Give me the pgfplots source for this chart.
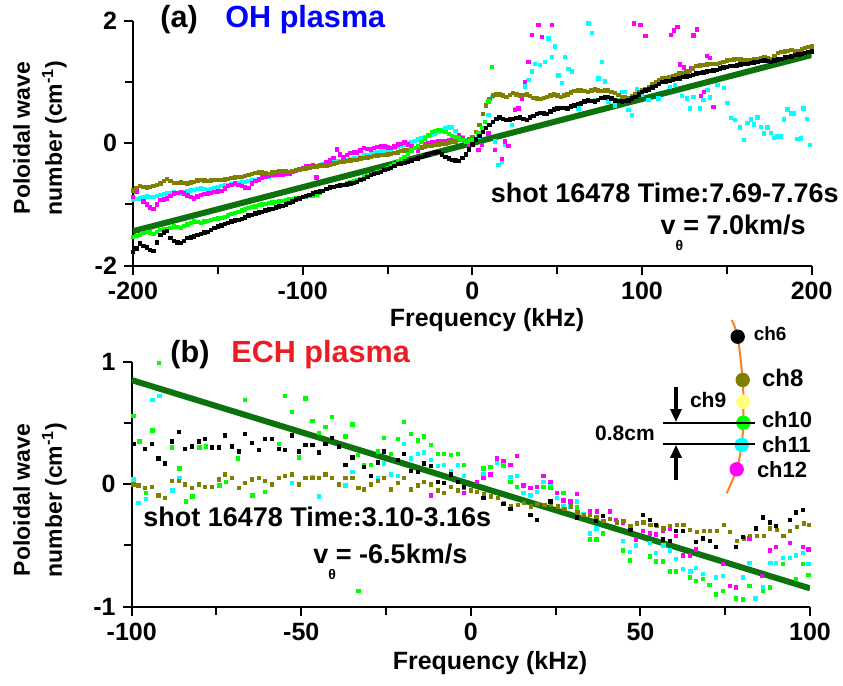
\documentclass[border=0pt]{standalone}
\usepackage{fontspec}
\setmainfont{Liberation Sans}
\usepackage{pgfplots}
\pgfplotsset{compat=1.18}
\usetikzlibrary{arrows.meta}
\definecolor{olivec}{RGB}{128,128,0}
\definecolor{fitgreen}{RGB}{12,115,12}
\definecolor{ohblue}{RGB}{0,0,255}
\definecolor{echred}{RGB}{237,28,36}
\definecolor{curveor}{RGB}{255,127,39}
\definecolor{ch9y}{RGB}{255,255,128}
\definecolor{cy}{RGB}{0,255,255}
\definecolor{mg}{RGB}{255,0,255}
\definecolor{gr}{RGB}{0,255,0}
\pgfplotsset{
  panel/.style={
    scale only axis,
    axis lines=left,
    axis line style={line width=1pt,-},
    tick align=outside,
    major tick length=4.5pt, minor tick length=4pt,
    tick style={line width=1pt,black},
    minor tick style={line width=1pt,black},
    tick label style={font=\fontsize{12.5}{15}\selectfont\bfseries},
    /pgf/number format/assume math mode=true,
    enlargelimits=false,
  },
  dots/.style={only marks, mark=square*, mark size=0.85pt, mark options={line width=0.3pt}},
  fit/.style={no marks, line width=3pt, fitgreen},
}
\begin{document}
\begin{tikzpicture}
\useasboundingbox (0,0) rectangle (421.5pt,-343pt);
% ---------------- panel (a)
\begin{axis}[panel, at={(66.5pt,-132.75pt)}, anchor=south west, width=339.35pt, height=122.4pt,
  xmin=-200,xmax=200,ymin=-2,ymax=2,
  xtick={-200,-100,0,100,200}, minor xtick={-150,-50,50,150},
  ytick={-2,0,2}, minor ytick={-1,1}]
% cyan
\addplot[dots, cy] coordinates {
(-200,-0.93)(-196,-0.90)(-192,-0.87)(-188,-0.88)(-184,-0.84)(-180,-0.82)(-176,-0.80)(-172,-0.82)(-168,-0.78)(-164,-0.76)(-160,-0.74)(-156,-0.76)(-152,-0.74)(-148,-0.70)(-144,-0.68)(-140,-0.66)(-136,-0.64)(-132,-0.62)(-128,-0.60)(-124,-0.56)(-120,-0.54)(-116,-0.52)(-112,-0.50)(-108,-0.47)(-104,-0.45)(-100,-0.42)(-96,-0.40)(-92,-0.37)(-88,-0.34)(-84,-0.32)(-80,-0.30)(-76,-0.28)(-72,-0.26)(-68,-0.24)(-64,-0.20)(-60,-0.18)(-56,-0.15)(-52,-0.12)(-48,-0.10)(-44,-0.06)(-40,-0.02)(-36,0.02)(-32,0.06)(-28,0.10)(-24,0.14)(-20,0.18)(-16,0.24)(-12,0.27)(-8,0.14)(-4,0.05)
(-198,-0.91)(-194,-0.88)(-190,-0.88)(-186,-0.86)(-182,-0.83)(-178,-0.81)(-174,-0.81)(-170,-0.80)(-166,-0.77)(-162,-0.75)(-158,-0.75)(-154,-0.75)(-150,-0.72)(-146,-0.69)(-142,-0.67)(-138,-0.65)(-134,-0.63)(-130,-0.61)(-126,-0.58)(-122,-0.55)(-118,-0.53)(-114,-0.51)(-110,-0.48)(-106,-0.46)(-102,-0.43)(-98,-0.41)(-94,-0.38)(-90,-0.35)(-86,-0.33)(-82,-0.31)(-78,-0.29)(-74,-0.27)(-70,-0.25)(-66,-0.22)(-62,-0.19)(-58,-0.16)(-54,-0.13)(-50,-0.11)(-46,-0.08)(-42,-0.04)(-38,0.00)(-34,0.04)(-30,0.08)(-26,0.12)(-22,0.16)(-18,0.21)(-14,0.26)(-10,0.20)(-6,0.10)
(3.5,0.11)(9.4,0.46)(11.4,0.76)(13.3,0.03)(15.3,-0.35)(17.2,-0.30)(19.2,-0.03)(23.1,0.30)(25.1,0.55)(31,0.93)(33,1.03)(34.9,1.17)(36.9,1.30)(39.8,1.28)(42.8,1.33)(44.8,1.71)(46.7,1.41)(48.7,1.58)(50.6,1.11)(52.6,0.99)(54.6,1.41)(56.5,1.21)(58.5,1.17)(62.4,0.57)(68.3,1.96)(70.3,1.80)(72.3,0.71)(74.2,1.06)(76.2,1.33)(78.1,1.01)(80.1,0.68)(84,0.62)(86,0.70)(88,0.84)(90,0.84)(91.9,0.54)(93.9,0.46)(96.8,0.88)(99.8,0.79)(103.7,0.71)(109.6,0.73)(116.5,0.92)(119.4,0.95)(123.4,0.77)(126.3,0.73)(128.3,0.57)(130.2,0.76)(134.2,0.57)(136.1,0.71)(138.5,0.87)(140,0.75)(144.4,0.95)(148.3,0.90)(150.3,0.66)(152.2,0.41)(154.8,0.38)(157.7,0.26)(160.1,0.05)(162.1,0.33)(164,0.39)(166,0.31)(168,0.42)(169.9,0.27)(171.9,0.16)(173.8,0.26)(175.8,0.17)(177.8,0.09)(179.7,0.11)(181.7,0.11)(183.7,0.39)(185.6,0.55)(187.6,0.49)(189.6,0.49)(191.1,0.07)(193.5,0.08)(195.1,0.57)(197,0.40)(199,-0.03)
};
% magenta
\addplot[dots, mg] coordinates {
(-200,-0.88)(-196,-0.70)(-192,-1.00)(-188,-1.07)(-184,-0.93)(-180,-0.90)(-176,-0.82)(-172,-0.80)(-168,-0.85)(-164,-0.90)(-160,-0.84)(-156,-0.82)(-152,-0.80)(-148,-0.78)(-144,-0.70)(-140,-0.66)(-136,-0.70)(-132,-0.73)(-128,-0.62)(-124,-0.56)(-120,-0.53)(-116,-0.52)(-112,-0.51)(-108,-0.50)(-104,-0.45)(-100,-0.40)(-96,-0.37)(-92,-0.56)(-88,-0.35)(-84,-0.28)(-80,-0.10)(-76,-0.22)(-72,-0.16)(-68,-0.15)(-64,-0.08)(-60,-0.10)(-56,-0.06)(-52,-0.05)(-48,-0.08)(-44,-0.02)(-40,0.01)(-36,-0.05)(-32,-0.12)(-28,-0.02)(-24,0.01)(-20,0.03)(-16,0.03)(-12,0.06)(-8,0.13)(-4,0.02)
(-198,-0.80)(-194,-0.95)(-190,-1.05)(-186,-1.00)(-182,-0.92)(-178,-0.86)(-174,-0.81)(-170,-0.82)(-166,-0.88)(-162,-0.87)(-158,-0.83)(-154,-0.81)(-150,-0.79)(-146,-0.74)(-142,-0.68)(-138,-0.68)(-134,-0.72)(-130,-0.66)(-126,-0.59)(-122,-0.54)(-118,-0.52)(-114,-0.51)(-110,-0.50)(-106,-0.47)(-102,-0.42)(-98,-0.38)(-94,-0.36)(-90,-0.36)(-86,-0.31)(-82,-0.24)(-78,-0.18)(-74,-0.19)(-70,-0.15)(-66,-0.12)(-62,-0.09)(-58,-0.08)(-54,-0.05)(-50,-0.07)(-46,-0.05)(-42,-0.01)(-38,-0.02)(-34,-0.08)(-30,-0.07)(-26,0.00)(-22,0.02)(-18,0.03)(-14,0.05)(-10,0.10)(-6,0.08)(-2,-0.04)
(3.5,-0.11)(5.5,-0.03)(9.4,0.16)(13.3,-0.11)(17.2,-0.26)(19.2,0.03)(21.2,-0.04)(25.1,0.54)(27.1,0.57)(29,0.73)(31,1.0)(33,1.33)(34.9,1.77)(38.9,1.93)(40.8,1.74)(46.7,1.93)(95,1.96)(99,1.93)(102,1.75)(116.9,1.77)(118.8,1.84)(120.8,1.90)(122.4,1.29)(124.7,1.24)(126.7,1.17)(128.7,1.22)(130.2,1.76)(132.2,1.86)(134.5,0.77)(136.5,0.84)(138.1,1.43)(140.1,1.39)(142,0.59)
};
% olive
\addplot[dots, olivec] coordinates {
(-200,-0.77)(-196,-0.70)(-192,-0.72)(-188,-0.70)(-184,-0.66)(-180,-0.58)(-176,-0.65)(-172,-0.64)(-168,-0.66)(-164,-0.63)(-160,-0.60)(-156,-0.62)(-152,-0.60)(-148,-0.60)(-144,-0.58)(-140,-0.56)(-136,-0.55)(-132,-0.52)(-128,-0.49)(-124,-0.48)(-120,-0.50)(-116,-0.47)(-112,-0.46)(-108,-0.47)(-104,-0.44)(-100,-0.42)(-96,-0.40)(-92,-0.38)(-88,-0.37)(-84,-0.35)(-80,-0.32)(-76,-0.30)(-72,-0.28)(-68,-0.27)(-64,-0.24)(-60,-0.22)(-56,-0.20)(-52,-0.19)(-48,-0.17)(-44,-0.15)(-40,-0.12)(-36,-0.10)(-32,-0.07)(-28,-0.05)(-24,-0.04)(-20,-0.02)(-16,0.00)(-12,0.02)(-8,0.05)(-4,0.04)(0,0.10)(4,0.30)(8,0.62)(12,0.78)(16,0.80)(20,0.76)(24,0.82)(28,0.78)(32,0.80)(36,0.74)(40,0.72)(44,0.76)(48,0.80)(52,0.76)(56,0.80)(60,0.85)(64,0.86)(68,0.84)(72,0.88)(76,0.85)(80,0.86)(84,0.82)(88,0.76)(92,0.74)(96,0.80)(100,0.86)(104,0.92)(108,1.00)(112,1.06)(116,1.08)(120,1.12)(124,1.15)(128,1.18)(132,1.26)(136,1.28)(140,1.30)(144,1.30)(148,1.33)(152,1.36)(156,1.38)(160,1.36)(164,1.35)(168,1.38)(172,1.40)(176,1.38)(180,1.48)(184,1.50)(188,1.52)(192,1.50)(196,1.56)(200,1.58)
(-198,-0.73)(-194,-0.71)(-190,-0.71)(-186,-0.68)(-182,-0.62)(-178,-0.62)(-174,-0.65)(-170,-0.65)(-166,-0.64)(-162,-0.61)(-158,-0.61)(-154,-0.61)(-150,-0.60)(-146,-0.59)(-142,-0.57)(-138,-0.55)(-134,-0.53)(-130,-0.50)(-126,-0.48)(-122,-0.49)(-118,-0.48)(-114,-0.46)(-110,-0.46)(-106,-0.45)(-102,-0.43)(-98,-0.41)(-94,-0.39)(-90,-0.37)(-86,-0.36)(-82,-0.33)(-78,-0.31)(-74,-0.29)(-70,-0.27)(-66,-0.25)(-62,-0.23)(-58,-0.21)(-54,-0.19)(-50,-0.18)(-46,-0.16)(-42,-0.13)(-38,-0.11)(-34,-0.08)(-30,-0.06)(-26,-0.04)(-22,-0.03)(-18,-0.01)(-14,0.01)(-10,0.03)(-6,0.05)(-2,0.06)(2,0.18)(6,0.48)(10,0.72)(14,0.80)(18,0.78)(22,0.79)(26,0.80)(30,0.79)(34,0.77)(38,0.73)(42,0.74)(46,0.78)(50,0.78)(54,0.78)(58,0.83)(62,0.86)(66,0.85)(70,0.86)(74,0.86)(78,0.86)(82,0.84)(86,0.79)(90,0.75)(94,0.77)(98,0.83)(102,0.89)(106,0.96)(110,1.03)(114,1.07)(118,1.10)(122,1.14)(126,1.16)(130,1.22)(134,1.27)(138,1.29)(142,1.30)(146,1.31)(150,1.35)(154,1.37)(158,1.37)(162,1.35)(166,1.37)(170,1.39)(174,1.39)(178,1.43)(182,1.49)(186,1.51)(190,1.51)(194,1.53)(198,1.57)
};
% green
\addplot[dots, gr] coordinates {
(-200,-1.53)(-196,-1.50)(-192,-1.45)(-188,-1.48)(-184,-1.42)(-180,-1.40)(-176,-1.36)(-172,-1.38)(-168,-1.33)(-164,-1.28)(-160,-1.30)(-156,-1.27)(-152,-1.24)(-148,-1.22)(-144,-1.18)(-140,-1.14)(-136,-1.10)(-132,-1.06)(-128,-1.03)(-124,-1.00)(-120,-0.98)(-116,-0.96)(-112,-0.94)(-108,-0.92)(-104,-0.90)(-100,-0.88)(-96,-0.86)(-92,-0.84)(-88,-0.78)(-84,-0.72)(-80,-0.70)(-76,-0.68)(-72,-0.64)(-68,-0.60)(-64,-0.56)(-60,-0.52)(-56,-0.48)(-52,-0.44)(-48,-0.38)(-44,-0.30)(-40,-0.22)(-36,-0.12)(-32,-0.04)(-28,0.08)(-24,0.18)(-20,0.22)(-16,0.18)(-12,0.12)(-8,0.08)(-4,0.02)(0,0.05)(3.5,0.16)(5.5,0.25)(7.4,0.35)(9.4,0.68)(11.4,1.25)
(-198,-1.51)(-194,-1.47)(-190,-1.46)(-186,-1.45)(-182,-1.41)(-178,-1.38)(-174,-1.37)(-170,-1.35)(-166,-1.30)(-162,-1.29)(-158,-1.28)(-154,-1.25)(-150,-1.23)(-146,-1.20)(-142,-1.16)(-138,-1.12)(-134,-1.08)(-130,-1.04)(-126,-1.01)(-122,-0.99)(-118,-0.97)(-114,-0.95)(-110,-0.93)(-106,-0.91)(-102,-0.89)(-98,-0.87)(-94,-0.85)(-90,-0.81)(-86,-0.75)(-82,-0.71)(-78,-0.69)(-74,-0.66)(-70,-0.62)(-66,-0.58)(-62,-0.54)(-58,-0.50)(-54,-0.46)(-50,-0.41)(-46,-0.34)(-42,-0.26)(-38,-0.17)(-34,-0.08)(-30,0.02)(-26,0.13)(-22,0.20)(-18,0.20)(-14,0.15)(-10,0.10)(-6,0.05)(-2,0.03)
};
% black
\addplot[dots, black] coordinates {
(-200,-1.78)(-196,-1.64)(-192,-1.70)(-188,-1.76)(-184,-1.50)(-180,-1.43)(-176,-1.60)(-172,-1.63)(-168,-1.55)(-164,-1.52)(-160,-1.48)(-156,-1.45)(-152,-1.38)(-148,-1.34)(-144,-1.30)(-140,-1.26)(-136,-1.24)(-132,-1.18)(-128,-1.15)(-124,-1.12)(-120,-1.08)(-116,-1.05)(-112,-1.02)(-108,-0.98)(-104,-0.92)(-100,-0.88)(-96,-0.84)(-92,-0.80)(-88,-0.78)(-84,-0.72)(-80,-0.70)(-76,-0.68)(-72,-0.66)(-68,-0.63)(-64,-0.58)(-60,-0.52)(-56,-0.49)(-52,-0.44)(-48,-0.40)(-44,-0.34)(-40,-0.32)(-36,-0.28)(-32,-0.25)(-28,-0.20)(-24,-0.16)(-20,-0.14)(-16,-0.22)(-12,-0.27)(-8,-0.29)(-4,-0.18)(0,-0.02)(4,0.12)(8,0.25)(12,0.35)(16,0.42)(20,0.38)(24,0.40)(28,0.42)(32,0.38)(36,0.45)(40,0.50)(44,0.48)(48,0.55)(52,0.58)(56,0.57)(60,0.62)(64,0.65)(68,0.70)(72,0.68)(76,0.74)(80,0.76)(84,0.70)(88,0.68)(92,0.70)(96,0.76)(100,0.84)(104,0.88)(108,0.94)(112,1.00)(116,1.02)(120,1.05)(124,1.08)(128,1.10)(132,1.14)(136,1.16)(140,1.18)(144,1.20)(148,1.24)(152,1.26)(156,1.27)(160,1.30)(164,1.31)(168,1.33)(172,1.35)(176,1.33)(180,1.37)(184,1.40)(188,1.42)(192,1.45)(196,1.48)(200,1.50)
(-198,-1.72)(-194,-1.68)(-190,-1.74)(-186,-1.62)(-182,-1.46)(-178,-1.55)(-174,-1.62)(-170,-1.60)(-166,-1.54)(-162,-1.50)(-158,-1.46)(-154,-1.42)(-150,-1.36)(-146,-1.32)(-142,-1.28)(-138,-1.25)(-134,-1.21)(-130,-1.17)(-126,-1.13)(-122,-1.10)(-118,-1.07)(-114,-1.03)(-110,-1.00)(-106,-0.95)(-102,-0.90)(-98,-0.86)(-94,-0.82)(-90,-0.79)(-86,-0.75)(-82,-0.71)(-78,-0.69)(-74,-0.67)(-70,-0.65)(-66,-0.60)(-62,-0.55)(-58,-0.50)(-54,-0.47)(-50,-0.42)(-46,-0.37)(-42,-0.33)(-38,-0.30)(-34,-0.26)(-30,-0.22)(-26,-0.18)(-22,-0.15)(-18,-0.18)(-14,-0.25)(-10,-0.28)(-6,-0.24)(-2,-0.10)(2,0.06)(6,0.18)(10,0.30)(14,0.40)(18,0.40)(22,0.39)(26,0.41)(30,0.40)(34,0.42)(38,0.48)(42,0.49)(46,0.52)(50,0.57)(54,0.58)(58,0.60)(62,0.64)(66,0.68)(70,0.69)(74,0.71)(78,0.75)(82,0.73)(86,0.69)(90,0.69)(94,0.73)(98,0.80)(102,0.86)(106,0.91)(110,0.97)(114,1.01)(118,1.04)(122,1.06)(126,1.09)(130,1.12)(134,1.15)(138,1.17)(142,1.19)(146,1.22)(150,1.25)(154,1.26)(158,1.29)(162,1.30)(166,1.32)(170,1.34)(174,1.34)(178,1.35)(182,1.38)(186,1.41)(190,1.44)(194,1.46)(198,1.49)
};
\addplot[fit] coordinates {(-200,-1.44)(200,1.44)};
\end{axis}
% ---------------- panel (b)
\begin{axis}[panel, at={(65.85pt,-303.35pt)}, anchor=south west, width=339.15pt, height=122.5pt,
  xmin=-100,xmax=100,ymin=-1,ymax=1,
  xtick={-100,-50,0,50,100}, minor xtick={-75,-25,25,75},
  ytick={-1,0,1}, minor ytick={-0.5,0.5}]
% cyan
\addplot[dots, cy] coordinates {
(-99.5,0.04)(-98,-0.15)(-95.8,-0.12)(-93.9,0.69)(-91.9,0.72)(-88,-0.05)(-86,0.05)(-52.8,0.01)(-46.8,0.06)(-44.9,-0.10)(-37,-0.01)(-35,0.10)(-33.4,-0.03)(-27.5,0.05)(-25.6,0.17)(-23.6,0.08)(-21.6,0.07)(-19.7,0.33)(-17.7,0.21)(-15.7,0.25)(-13.8,0.26)(-11.8,0.20)(-9.8,0.15)(-7.9,0.16)(-5.9,0.11)(-3.9,0.16)(-2,0.07)(3.7,0.08)(7.7,0.18)(9.6,0.16)(11.6,0.06)(13.6,0.07)(15.5,-0.07)(17.5,-0.09)(19.5,-0.06)(21.4,0.02)(23.4,-0.01)(25.4,-0.11)(27.3,-0.18)(29.3,-0.18)(31.3,-0.14)(33.2,-0.24)(35,-0.40)(37,-0.36)(44.8,-0.46)(46.8,-0.55)(48.7,-0.50)(52.7,-0.48)(54.6,-0.56)(56.8,-0.50)(58.6,-0.54)(60.5,-0.61)(62.5,-0.69)(64.7,-0.71)(66.4,-0.68)(68.4,-0.73)(72.3,-0.76)(74.3,-0.75)(80.2,-0.76)(82.1,-0.64)(83.9,-0.93)(86.1,-0.84)(88.3,-0.64)(90,-0.64)(92,-0.60)(94,-0.60)(95.9,-0.58)(97.9,-0.56)(99.5,-0.65)
};
% magenta
\addplot[dots, mg] coordinates {
(-11.8,-0.09)(-2,-0.07)(1.8,0.02)(3.7,0.05)(5.7,0.08)(7.7,0.21)(9.6,0.19)(11.6,0.16)(13.6,0.23)(15.5,-0.01)(17.5,-0.03)(19.5,-0.02)(21.4,0.07)(23.4,0.02)(25.4,-0.07)(27.3,-0.13)(29.3,-0.14)(31.3,-0.08)(35,-0.22)(37.2,-0.22)(38.9,-0.30)(40.9,-0.22)(42.8,-0.29)(44.8,-0.31)(48.7,-0.45)(50.7,-0.38)(52.7,-0.40)(54.6,-0.41)(56.6,-0.38)(58.6,-0.36)(60.5,-0.42)(62.5,-0.58)(64.5,-0.58)(66.4,-0.53)(74.3,-0.65)(76.3,-0.83)(78.2,-0.84)(82.1,-0.44)(85.8,-0.75)(88.1,-0.54)(90,-0.51)(92,-0.42)(94,-0.48)(97.9,-0.51)(99.5,-0.53)
};
% green
\addplot[dots, gr] coordinates {
(-99.5,0.56)(-97.8,0.35)(-95.8,-0.07)(-93.9,0.44)(-92,0.99)(-88.2,0.30)(-86,0.13)(-84.1,-0.14)(-82.1,-0.10)(-80.1,0.30)(-78.2,0.31)(-74.2,-0.01)(-72.2,0.02)(-68.7,0.21)(-66.7,0.69)(-64.4,-0.09)(-60.7,-0.06)(-56.7,0.33)(-54.8,0.72)(-52.8,0.59)(-50.8,0.22)(-48.8,0.70)(-46.8,0.52)(-44.9,0.42)(-42.9,0.47)(-41,0.55)(-37,0.39)(-35,0.49)(-33.4,0.24)(-33.2,-0.87)(-31.5,0.16)(-29.5,0.16)(-27.5,0.27)(-25.6,0.38)(-23.6,0.25)(-21.6,0.37)(-19.7,0.51)(-17.7,0.41)(-15.7,0.36)(-13.8,0.39)(-11.8,0.32)(-9.8,0.25)(-7.9,0.25)(-5.9,0.24)(-3.9,0.25)(-2,0.16)(3.7,0.13)(5.7,0.14)(9.6,0.15)(11.6,0.02)(13.6,-0.02)(21.4,-0.02)(23.4,-0.03)(27.3,-0.07)(31.3,-0.19)(35,-0.45)(37,-0.45)(38.9,-0.40)(44.8,-0.54)(46.8,-0.62)(52.7,-0.59)(54.6,-0.63)(56.6,-0.63)(58.6,-0.71)(60.5,-0.71)(64.5,-0.76)(66.4,-0.79)(68.4,-0.77)(70.3,-0.82)(72.3,-0.90)(74.3,-0.87)(78.2,-0.93)(80.2,-0.94)(82.1,-0.83)(86.1,-0.87)(88.1,-0.84)(92,-0.65)(95.9,-0.77)(97.9,-0.65)(99.5,-0.74)
};
% olive
\addplot[dots, olivec] coordinates {
(-99.5,0.00)(-98,-0.01)(-96.1,-0.03)(-94.1,-0.02)(-92.1,-0.09)(-90.2,-0.11)(-88.2,0.03)(-86.2,0.03)(-84.3,0.00)(-82.3,-0.03)(-80.3,0.00)(-78.4,-0.02)(-76.4,-0.02)(-74.4,0.04)(-72.5,0.08)(-70.5,0.05)(-68.5,-0.03)(-66.6,0.01)(-64.6,0.04)(-62.6,0.05)(-60.7,0.03)(-58.7,0.00)(-56.7,0.05)(-54.8,0.07)(-52.8,0.08)(-50.8,0.00)(-48.8,0.05)(-46.8,0.05)(-44.9,0.05)(-42.9,0.08)(-41,0.05)(-39,0.00)(-37,0.05)(-35,0.05)(-33.2,-0.03)(-31.5,-0.04)(-29.5,0.00)(-27.5,0.03)(-25.6,0.05)(-23.6,-0.04)(-21.6,0.01)(-19.7,0.05)(-17.7,-0.04)(-15.7,-0.01)(-13.8,0.02)(-11.8,0.00)(-9.8,-0.05)(-7.9,-0.07)(-5.9,-0.02)(-3.9,-0.05)(-2,-0.03)(0,-0.05)(1.8,-0.06)(3.9,-0.08)(5.9,-0.10)(7.9,-0.11)(9.8,-0.15)(11.8,-0.18)(13.8,-0.17)(15.7,-0.15)(17.7,-0.18)(19.6,-0.16)(21.6,-0.17)(23.6,-0.17)(25.6,-0.18)(27.5,-0.20)(29.5,-0.18)(31.4,-0.23)(33.3,-0.25)(35.1,-0.25)(37,-0.27)(39,-0.30)(41,-0.28)(43,-0.31)(45,-0.30)(47,-0.34)(48.9,-0.32)(50.9,-0.31)(52.9,-0.33)(54.8,-0.34)(56.8,-0.36)(58.7,-0.34)(60.7,-0.33)(62.7,-0.33)(64.6,-0.37)(66.6,-0.39)(68.6,-0.38)(70.5,-0.38)(72.5,-0.38)(74.5,-0.33)(76.4,-0.39)(78.4,-0.46)(80.4,-0.44)(82.3,-0.42)(84.3,-0.42)(86.3,-0.42)(88.2,-0.36)(90.2,-0.37)(92.2,-0.42)(94.1,-0.38)(96.1,-0.35)(98.1,-0.32)(99.6,-0.33)
};
% black
\addplot[dots, black] coordinates {
(-99.5,0.33)(-96.1,0.29)(-94.1,0.33)(-92.1,0.21)(-90.2,0.17)(-88.2,0.35)(-86.2,0.43)(-84.3,0.29)(-82.3,0.31)(-80.3,0.35)(-78.4,0.37)(-76.4,0.30)(-74.4,0.30)(-72.5,0.40)(-70.5,0.31)(-68.5,0.27)(-66.6,0.41)(-64.6,0.34)(-62.6,0.28)(-60.7,0.37)(-58.7,0.37)(-56.7,0.29)(-54.8,0.28)(-52.8,0.40)(-50.8,0.27)(-48.8,0.32)(-46.8,0.32)(-44.9,0.26)(-42.9,0.33)(-41,0.38)(-39,0.31)(-37,0.16)(-35,0.22)(-31.5,0.14)(-29.5,0.07)(-27.5,0.18)(-25.6,0.27)(-21.6,0.20)(-19.7,0.25)(-17.7,0.11)(-15.7,0.10)(-13.8,0.17)(-11.8,0.15)(-9.8,0.02)(-7.9,0.01)(-5.9,0.08)(-3.9,0.02)(-2,-0.02)(3.7,-0.11)(9.6,-0.16)(11.6,-0.20)(17.5,-0.25)(19.5,-0.29)(23.4,-0.14)(31.3,-0.27)(36.9,-0.30)(38.9,-0.26)(47,-0.37)(50.7,-0.25)(52.7,-0.29)(54.6,-0.33)(56.6,-0.45)(58.6,-0.46)(60.5,-0.38)(62.5,-0.38)(66.4,-0.47)(68.4,-0.44)(70.4,-0.46)(72.3,-0.51)(78.2,-0.51)(80.2,-0.43)(84.1,-0.36)(86.1,-0.27)(88.1,-0.31)(90,-0.34)(94,-0.29)(95.9,-0.23)(97.9,-0.21)
};
\addplot[fit] coordinates {(-100,0.85)(100,-0.85)};
\end{axis}
% ---------------- labels
\node[rotate=90, align=center, font=\fontsize{11.5}{16}\selectfont\bfseries] at (20pt,-69pt) {Poloidal wave\\number (cm\textsuperscript{-1})};
\node[rotate=90, align=center, font=\fontsize{11.5}{16}\selectfont\bfseries] at (20pt,-250pt) {Poloidal wave\\number (cm\textsuperscript{-1})};
\node[font=\fontsize{12.5}{15}\selectfont\bfseries] at (243.5pt,-160pt) {Frequency (kHz)};
\node[font=\fontsize{12.5}{15}\selectfont\bfseries] at (245pt,-331.5pt) {Frequency (kHz)};
\node[anchor=west, font=\fontsize{15.3}{18}\selectfont\bfseries, inner sep=0pt] at (80pt,-10pt) {(a)};
\node[anchor=west, font=\fontsize{15.3}{18}\selectfont\bfseries, text=ohblue, inner sep=0pt] at (112.5pt,-10pt) {OH plasma};
\node[anchor=west, font=\fontsize{15.3}{18}\selectfont\bfseries, inner sep=0pt] at (85pt,-177.5pt) {(b)};
\node[anchor=west, font=\fontsize{15.3}{18}\selectfont\bfseries, text=echred, inner sep=0pt] at (115.5pt,-177.5pt) {ECH plasma};
\node[anchor=east, font=\fontsize{13.5}{16}\selectfont\bfseries, inner sep=0pt] at (419.5pt,-96.5pt) {shot 16478 Time:7.69-7.76s};
\node[anchor=east, font=\fontsize{13.5}{16}\selectfont\bfseries, inner sep=0pt] at (403pt,-116.5pt) {v\raisebox{-1.1ex}{\fontsize{7}{7}\selectfont θ}= 7.0km/s};
\node[anchor=west, font=\fontsize{13.5}{16}\selectfont\bfseries, inner sep=0pt] at (71.5pt,-258.5pt) {shot 16478 Time:3.10-3.16s};
\node[anchor=west, font=\fontsize{13.5}{16}\selectfont\bfseries, inner sep=0pt] at (156.5pt,-281pt) {v\raisebox{-1.1ex}{\fontsize{7}{7}\selectfont θ}= -6.5km/s};
% ---------------- inset schematic
\draw[curveor, line width=1pt] plot[smooth] coordinates {(365.85pt,-160pt) (368.85pt,-168.35pt) (371.35pt,-190pt) (371.65pt,-200.85pt) (371.65pt,-211.35pt) (370.85pt,-222.5pt) (368.35pt,-234.65pt) (363.35pt,-246.65pt)};
\fill[black] (368.85pt,-168.35pt) circle (3.6pt);
\fill[olivec] (371.35pt,-190pt) circle (3.6pt);
\fill[ch9y] (371.65pt,-200.85pt) circle (3.6pt);
\fill[gr] (371.65pt,-211.35pt) circle (3.6pt);
\fill[cy] (370.85pt,-222.5pt) circle (3.6pt);
\fill[mg] (368.35pt,-234.65pt) circle (3.6pt);
\draw[line width=1pt] (331.5pt,-211.35pt) -- (377.5pt,-211.35pt);
\draw[line width=1pt] (331.5pt,-222pt) -- (377.5pt,-222pt);
\draw[line width=1.6pt, -{Triangle[length=6.5pt,width=5.5pt]}] (338pt,-193.35pt) -- (338pt,-211pt);
\draw[line width=1.6pt, -{Triangle[length=6.5pt,width=5.5pt]}] (338pt,-240pt) -- (338pt,-222.4pt);
\node[anchor=west, font=\fontsize{9.5}{10}\selectfont\bfseries, inner sep=0pt] at (376.7pt,-167pt) {ch6};
\node[anchor=west, font=\fontsize{12}{13}\selectfont\bfseries, inner sep=0pt] at (380.8pt,-189.2pt) {ch8};
\node[anchor=east, font=\fontsize{10.5}{12}\selectfont\bfseries, inner sep=0pt] at (363.3pt,-200pt) {ch9};
\node[anchor=west, font=\fontsize{11}{12}\selectfont\bfseries, inner sep=0pt] at (380.8pt,-210pt) {ch10};
\node[anchor=west, font=\fontsize{11}{12}\selectfont\bfseries, inner sep=0pt] at (380.8pt,-222.5pt) {ch11};
\node[anchor=west, font=\fontsize{11}{12}\selectfont\bfseries, inner sep=0pt] at (378.3pt,-235pt) {ch12};
\node[font=\fontsize{10.5}{12}\selectfont\bfseries, inner sep=0pt] at (312.5pt,-216.7pt) {0.8cm};
\end{tikzpicture}
\end{document}
